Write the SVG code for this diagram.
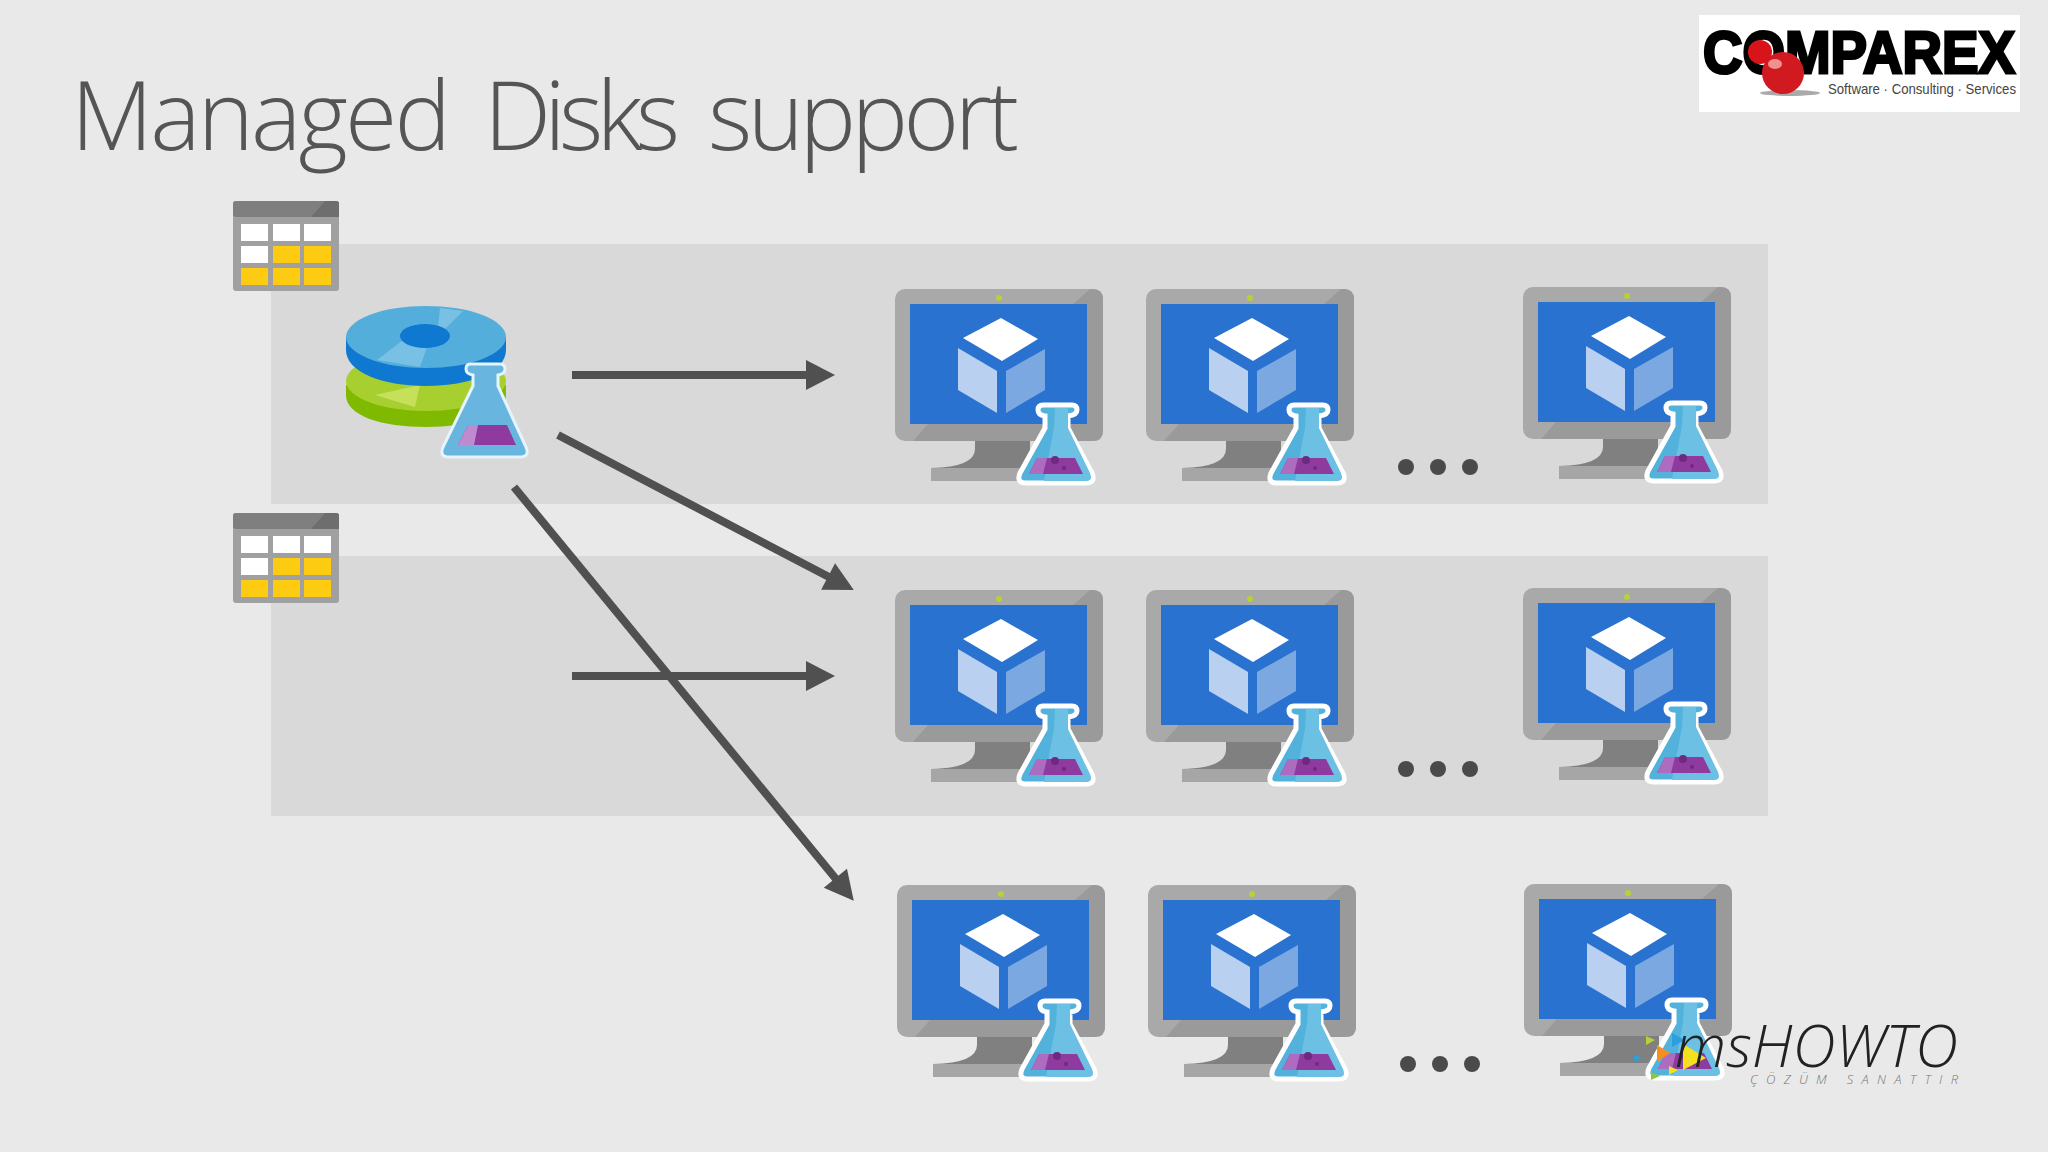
<svg xmlns="http://www.w3.org/2000/svg" width="2048" height="1152" viewBox="0 0 2048 1152">
<style>
.band{fill:#d9d9d9}
.conn{stroke:#505050;stroke-width:8;fill:none}
.dot{fill:#4a4a4a}
.title{font-family:"Open Sans","Liberation Sans",sans-serif;font-weight:300;font-size:95px;fill:#555}
</style>
<defs>
<marker id="arrow" markerUnits="userSpaceOnUse" markerWidth="30" markerHeight="30" refX="1" refY="15" orient="auto" overflow="visible"><path d="M0,0 L29,15 L0,30Z" fill="#505050"/></marker>
<g id="flask">
<path d="M148,116H177Q182,116 182,121Q182,126 173,127V139L197,184Q201,194 191,194H131Q121,194 125,184L150,139V127Q143,126 143,121Q143,116 148,116Z" fill="#52b2dc" stroke="#fff" stroke-width="5"/>
<path d="M160,119H173V139L195,184Q198,192 191,192H149L159,139Z" fill="#6cc0e4"/>
<path d="M142,169H180L188,185H134Z" fill="#8e3a9e"/>
<path d="M142,169H152L148,185H134Z" fill="#ad6cc0"/>
<circle cx="160" cy="171" r="4" fill="#6f2a80"/><circle cx="169" cy="179" r="2" fill="#6f2a80"/>
</g>
<g id="vm">
<rect width="208" height="152" rx="10" fill="#a9a9a9"/>
<path d="M178,15H192V135H33L18,152H198Q208,152 208,142V10Q208,0 198,0H195Z" fill="#9a9a9a"/>
<rect x="15" y="15" width="177" height="120" fill="#2a72cf"/>
<circle cx="104" cy="9" r="3" fill="#b5d334"/>
<path d="M106,29L143,50L107,72L68,49Z" fill="#fff"/>
<path d="M63,59L102,82V124L63,101Z" fill="#b9d0f0"/>
<path d="M111,82L150,60V101L111,124Z" fill="#7ba8e0"/>
<path d="M80,152H135V179H36Q80,178 80,160Z" fill="#808080"/>
<rect x="36" y="179" width="94" height="13" fill="#a6a6a6"/>
<use href="#flask"/>
</g>
<g id="table">
<rect width="106" height="90" rx="3" fill="#a0a0a0"/>
<path d="M3,0H103Q106,0 106,3V16H3Q0,16 0,13V3Q0,0 3,0Z" fill="#7f7f7f"/>
<path d="M78,16L92,0H103Q106,0 106,3V16Z" fill="#6e6e6e"/>
<g fill="#fff"><rect x="8" y="23" width="27" height="17"/><rect x="40" y="23" width="27" height="17"/><rect x="71" y="23" width="27" height="17"/><rect x="8" y="45" width="27" height="17"/></g>
<g fill="#fdcb12"><rect x="40" y="45" width="27" height="17"/><rect x="71" y="45" width="27" height="17"/><rect x="8" y="67" width="27" height="17"/><rect x="40" y="67" width="27" height="17"/><rect x="71" y="67" width="27" height="17"/></g>
</g>
</defs>
<rect width="2048" height="1152" fill="#e9e9e9"/>
<rect class="band" x="271" y="244" width="1497" height="260"/>
<rect class="band" x="271" y="556" width="1497" height="260"/>
<text class="title" y="150"><tspan x="71" textLength="380">Managed</tspan><tspan x="484" textLength="196">Disks</tspan><tspan x="708" textLength="311">support</tspan></text>

<g id="table-1"><use href="#table" x="233" y="201"/></g>
<g id="table-2"><use href="#table" x="233" y="513"/></g>

<g id="disk">
<path d="M346,385V395C346,416 382,427 426,427C470,427 506,416 506,395V385Z" fill="#7fba00"/>
<ellipse cx="426" cy="381" rx="80" ry="30" fill="#a8cf30"/>
<path d="M375,395L420,385L415,407Z" fill="#c6e05a"/>
<path d="M346,337V350C346,372 382,386 426,386C470,386 506,372 506,350V337Z" fill="#0f78d0"/>
<ellipse cx="426" cy="337" rx="80" ry="31" fill="#54aedb"/>
<path d="M440,308L463,311L437,337Z M377,360L403,340L427,347L420,367Z" fill="#78c1e4"/>
<ellipse cx="425" cy="336" rx="25" ry="12" fill="#0f78d0"/>
<path d="M470,364H500Q505,364 505,369Q505,374 498,375V386L526,447Q530,457 520,457H449Q439,457 443,447L473,386V375Q466,374 466,369Q466,364 470,364Z" fill="#68b6e0" stroke="#e6f4fb" stroke-width="3"/>
<path d="M468,425H507L516,445H458Z" fill="#8e3a9e"/>
<path d="M468,425H478L474,445H458Z" fill="#c08ad0"/>
</g>

<g id="vm-1-1"><use href="#vm" x="895" y="289"/></g>
<g id="vm-1-2"><use href="#vm" x="1146" y="289"/></g>
<g id="vm-1-3"><use href="#vm" x="1523" y="287"/></g>
<g id="vm-2-1"><use href="#vm" x="895" y="590"/></g>
<g id="vm-2-2"><use href="#vm" x="1146" y="590"/></g>
<g id="vm-2-3"><use href="#vm" x="1523" y="588"/></g>
<g id="vm-3-1"><use href="#vm" x="897" y="885"/></g>
<g id="vm-3-2"><use href="#vm" x="1148" y="885"/></g>
<g id="vm-3-3"><use href="#vm" x="1524" y="884"/></g>

<g class="dot"><circle cx="1406" cy="467" r="8"/><circle cx="1438" cy="467" r="8"/><circle cx="1470" cy="467" r="8"/>
<circle cx="1406" cy="769" r="8"/><circle cx="1438" cy="769" r="8"/><circle cx="1470" cy="769" r="8"/>
<circle cx="1408" cy="1064" r="8"/><circle cx="1440" cy="1064" r="8"/><circle cx="1472" cy="1064" r="8"/></g>

<g id="connectors">
<line class="conn" x1="572" y1="375" x2="807" y2="375" marker-end="url(#arrow)"/>
<line class="conn" x1="572" y1="676" x2="807" y2="676" marker-end="url(#arrow)"/>
<line class="conn" x1="558" y1="435" x2="829" y2="577" marker-end="url(#arrow)"/>
<line class="conn" x1="514" y1="487" x2="836" y2="879" marker-end="url(#arrow)"/>
</g>

<g id="logo-comparex">
<rect x="1699" y="15" width="321" height="97" fill="#fff"/>
<text x="1703" y="73" font-family="Liberation Sans,sans-serif" font-weight="700" font-size="60" textLength="312" lengthAdjust="spacingAndGlyphs" stroke="#000" stroke-width="3" fill="#000">COMPAREX</text>
<ellipse cx="1790" cy="93" rx="30" ry="3" fill="#aaa"/>
<circle cx="1760" cy="52" r="12" fill="#d8141a"/>
<circle cx="1783" cy="73" r="21" fill="#d01a20"/>
<ellipse cx="1775" cy="64" rx="7" ry="5" fill="#f09090"/>
<text x="1828" y="94" font-family="Liberation Sans,sans-serif" font-size="15" textLength="188" lengthAdjust="spacingAndGlyphs" fill="#444">Software · Consulting · Services</text>
</g>

<g id="logo-mshowto">
<path d="M1646,1036L1655,1040L1646,1045Z" fill="#b5d334"/>
<path d="M1657,1045L1670,1053L1657,1062Z" fill="#f5901e"/>
<path d="M1634,1055L1642,1058L1634,1062Z" fill="#2d9fe0"/>
<path d="M1672,1033L1685,1040L1672,1047Z" fill="#2d9fe0"/>
<path d="M1683,1044L1706,1058L1683,1070Z" fill="#f5e020"/>
<path d="M1669,1066L1678,1070L1669,1075Z" fill="#f5e020"/>
<path d="M1651,1072L1660,1076L1651,1080Z" fill="#8ec63f"/>
<text x="1675" y="1067" font-family="Open Sans,sans-serif" font-weight="300" font-style="italic" font-size="58" textLength="283" lengthAdjust="spacingAndGlyphs" fill="#222">msHOWTO</text>
<text x="1750" y="1084" font-family="Open Sans,sans-serif" font-weight="300" font-style="italic" font-size="13" textLength="208" fill="#777">ÇÖZÜM SANATTIR</text>
</g>
</svg>
